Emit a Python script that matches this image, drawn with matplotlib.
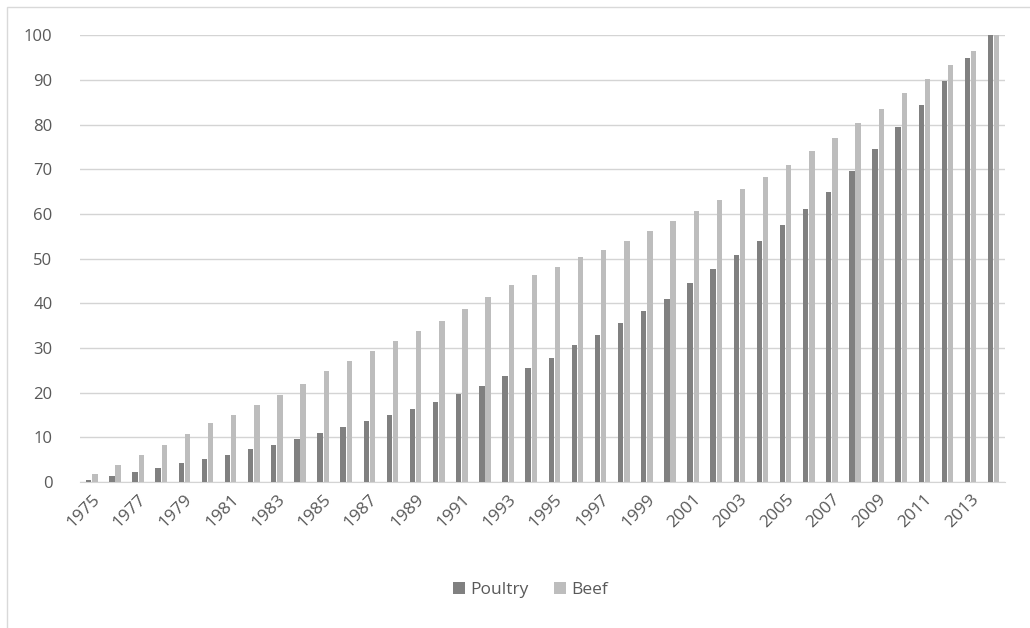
import matplotlib.pyplot as plt
import numpy as np
from matplotlib.patches import Rectangle

years = list(range(1975, 2015))
poultry = [0.5, 1.4, 2.3, 3.2, 4.3, 5.2, 6.0, 7.4, 8.2, 9.6,
           11.0, 12.3, 13.6, 15.0, 16.4, 18.0, 19.8, 21.5, 23.8, 25.6,
           27.8, 30.6, 33.0, 35.6, 38.3, 41.0, 44.6, 47.6, 50.8, 54.0,
           57.6, 61.0, 65.0, 69.6, 74.6, 79.5, 84.4, 89.8, 94.8, 100.0]
beef = [1.8, 3.7, 6.0, 8.3, 10.8, 13.2, 15.0, 17.2, 19.4, 22.0,
        24.8, 27.0, 29.3, 31.5, 33.8, 36.0, 38.8, 41.4, 44.0, 46.3,
        48.2, 50.3, 52.0, 54.0, 56.2, 58.4, 60.6, 63.0, 65.5, 68.3,
        71.0, 74.0, 77.0, 80.4, 83.4, 87.0, 90.1, 93.3, 96.4, 100.0]

plt.rcParams['font.family'] = ['Open Sans', 'DejaVu Sans']

fig = plt.figure(figsize=(10.3, 6.28), dpi=100)
ax = fig.add_axes([0.078, 0.2325, 0.898, 0.7115])

# light chart border like the spreadsheet frame
fig.patches.append(Rectangle((7 / 1030, -0.1), 1.2, 1 - 7 / 628 + 0.1,
                             transform=fig.transFigure, fill=False,
                             edgecolor='#d9d9d9', linewidth=1))

x = np.arange(len(years))
w = 0.23
ax.bar(x - w / 2 - 0.02, poultry, w, color='#808080', label='Poultry', zorder=3)
ax.bar(x + w / 2 + 0.02, beef, w, color='#bdbdbd', label='Beef', zorder=3)

ax.set_xlim(-0.5, len(years) - 0.5)
ax.set_ylim(0, 100)
ax.set_yticks(range(0, 101, 10))
ax.yaxis.grid(True, color='#d4d4d4', linewidth=1, zorder=0)
ax.set_axisbelow(True)

ax.set_xticks(x[::2])
ax.set_xticklabels([str(y) for y in years[::2]], rotation=45, ha='right',
                   rotation_mode='anchor')
ax.tick_params(axis='both', length=0, labelcolor='#595959')
ax.tick_params(axis='y', labelsize=12, pad=20)
ax.tick_params(axis='x', labelsize=12.5, pad=7)

for s in ['top', 'right', 'left']:
    ax.spines[s].set_visible(False)
ax.spines['bottom'].set_color('#d4d4d4')

leg = fig.legend(loc='center', bbox_to_anchor=(0.515, 0.06), ncol=2, frameon=False,
                 fontsize=12.5, handlelength=0.7, handleheight=0.7,
                 handletextpad=0.3, columnspacing=1.5)
for t in leg.get_texts():
    t.set_color('#595959')

fig.savefig('out.png', dpi=100, facecolor='white')
